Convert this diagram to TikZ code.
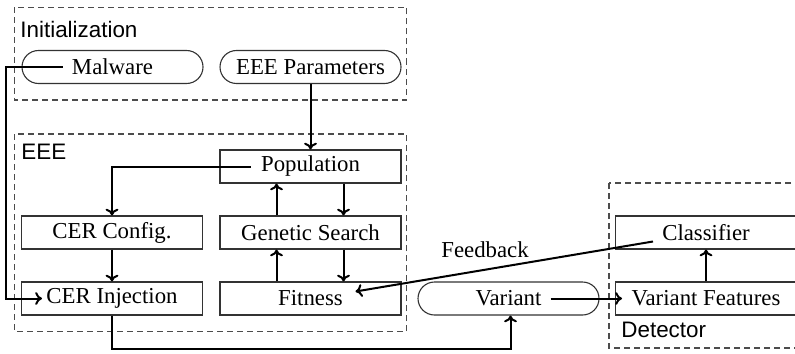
\documentclass[tikz,border=0pt]{standalone}
\usepackage{fontspec}
\setmainfont{Liberation Serif}
\setsansfont{Liberation Sans}
\usetikzlibrary{shapes.misc,calc,arrows.meta}
\definecolor{edge}{gray}{0.2}
\definecolor{dash}{gray}{0.3}
\begin{document}
\begin{tikzpicture}[x=0.5pt,y=-0.5pt,
  font=\fontsize{11.4}{13}\selectfont,
  box/.style={draw=edge,line width=0.55pt,minimum width=90.5pt,minimum height=16.5pt,inner sep=0pt},
  pill/.style={box,rounded rectangle},
  grp/.style={draw=dash,line width=0.55pt,dash pattern=on 3pt off 2pt},
  grplabel/.style={anchor=west,inner sep=0pt,font=\sffamily\fontsize{11.2}{13}\selectfont},
  conn/.style={line width=1pt,-{To[length=3.4pt,width=6.4pt]}}]
\clip (0,0) rectangle (795,353);
% groups
\draw[grp] (14.5,7.5) rectangle (406.5,100);
\draw[grp] (14.5,134) rectangle (406.5,331.5);
\draw[grp] (609,183) rectangle (805,348);
\node[grplabel] (linit) at (20,29) {Initialization};
\node[grplabel] (leee) at (21,152) {EEE};
\node[grplabel] (ldet) at (621,330) {Detector};
% nodes
\node[pill] (mal) at (112.5,67) {Malware};
\node[pill] (par) at (310.5,67) {EEE Parameters};
\node[box] (pop) at (310.5,166.5) {Population};
\node[box] (cfg) at (112,232.5) {CER Config.};
\node[box] (gen) at (310.5,232.5) {Genetic Search};
\node[box] (inj) at (112,298.5) {CER Injection};
\node[box] (fit) at (310.5,298.5) {Fitness};
\node[pill] (var) at (508.5,298.5) {Variant};
\node[box] (cls) at (706,232.5) {Classifier};
\node[box] (vf) at (706,298.5) {Variant Features};
\node[inner sep=0pt] (fb) at (485,250) {Feedback};
% connectors
\draw[conn] (par.south) -- (pop.north);
\draw[conn] ($(pop.center)+(-60,0)$) -| (cfg.north);
\draw[conn] (cfg.south) -- (inj.north);
\draw[conn] ($(gen.north)+(-34,0)$) -- ($(pop.south)+(-34,0)$);
\draw[conn] ($(pop.south)+(33,0)$) -- ($(gen.north)+(33,0)$);
\draw[conn] ($(fit.north)+(-34,0)$) -- ($(gen.south)+(-34,0)$);
\draw[conn] ($(gen.south)+(33,0)$) -- ($(fit.north)+(33,0)$);
\draw[conn] ($(mal.center)+(-50,0)$) -- ++(-57,0) |- ($(inj.center)+(-70,0)$);
\draw[conn] (inj.south) -- ++(0,33) -| ($(var.south)+(2,0)$);
\draw[conn] ($(var.center)+(42,0)$) -- ($(vf.center)+(-84,0)$);
\draw[conn] (vf.north) -- (cls.south);
\draw[conn] ($(cls.center)+(-53,9)$) -- ($(fit.center)+(45,-7)$);
\end{tikzpicture}
\end{document}
